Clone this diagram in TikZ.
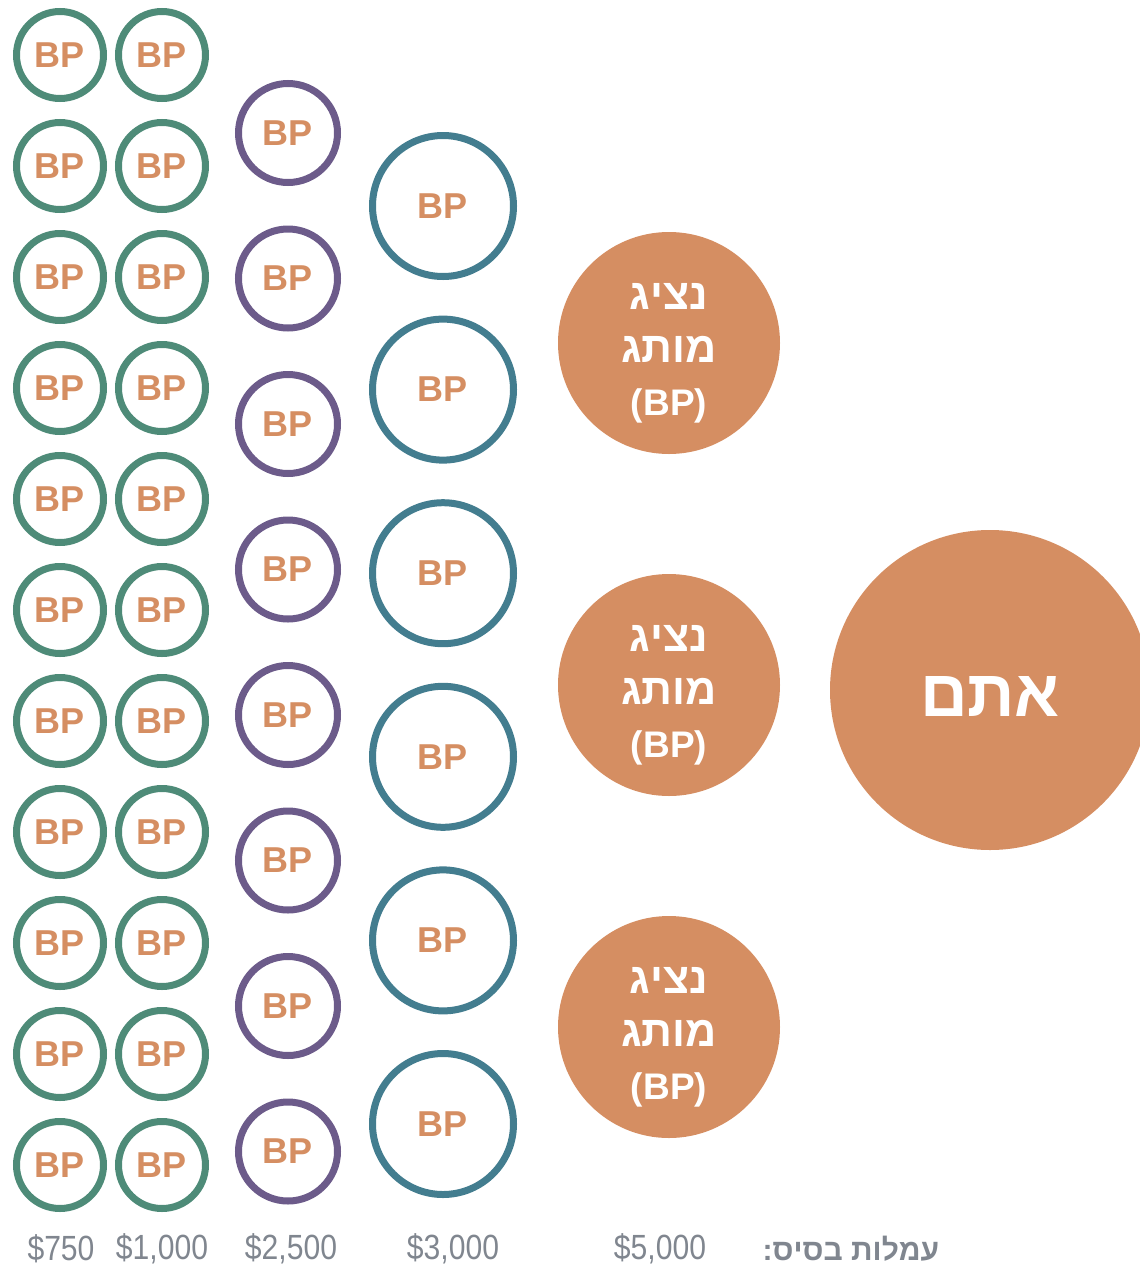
\documentclass[tikz,border=0pt]{standalone}
\usepackage{fontspec}
\setmainfont{Liberation Sans}
\newfontfamily\narrowfont[FakeStretch=0.86]{Liberation Sans}
\TeXXeTstate=1
\usepackage{tikz}

\definecolor{bpgreen}{HTML}{4E8B78}
\definecolor{bppurple}{HTML}{6C5B8A}
\definecolor{bpteal}{HTML}{437D8F}
\definecolor{bporange}{HTML}{D58E62}
\definecolor{feegray}{HTML}{80868F}

\begin{document}
\begin{tikzpicture}[x=0.5pt,y=-0.5pt,
  bp/.style={draw,circle,inner sep=0pt,line width=3.5pt,text=bporange,
    font=\bfseries\fontsize{18}{20}\selectfont},
  rep/.style={circle,fill=bporange,inner sep=0pt,minimum size=111pt},
  reptext/.style={text=white,align=center,inner sep=0pt,
    font=\bfseries\fontsize{21.5}{26.5}\selectfont},
  fee/.style={text=feegray,font=\narrowfont\fontsize{17.5}{20}\selectfont}]
\useasboundingbox (0,0) rectangle (1140,1264);
\foreach \i in {0,...,10} {
  \node[bp,draw=bpgreen,minimum size=43.5pt] (a\i) at (60,55+111*\i) {BP};
  \node[bp,draw=bpgreen,minimum size=43.5pt] (b\i) at (162,55+111*\i) {BP};
}
\foreach \i in {0,...,7}
  \node[bp,draw=bppurple,minimum size=49.5pt] (c\i) at (288,133+145.5*\i) {BP};
\foreach \i in {0,...,5}
  \node[bp,draw=bpteal,minimum size=70.5pt] (d\i) at (443,206+183.6*\i) {BP};
\foreach \i in {0,1,2} {
  \node[rep] (r\i) at (669,343+342*\i) {};
  \node[reptext] (t\i) at ([yshift=-5pt]r\i.center)
    {\beginR נציג\endR\\\beginR מותג\endR\\{\fontsize{18.5}{26.5}\selectfont (BP)}};
}
\node[circle,fill=bporange,inner sep=0pt,minimum size=160pt] (you) at (990,690) {};
\node[text=white,inner sep=0pt,font=\bfseries\fontsize{33}{36}\selectfont]
  (youtext) at ([yshift=-3pt]you.center) {\beginR אתם\endR};
\node[fee] (f1) at (61,1249) {\$750};
\node[fee] (f2) at (162,1249) {\$1,000};
\node[fee] (f3) at (291,1249) {\$2,500};
\node[fee] (f4) at (453,1249) {\$3,000};
\node[fee] (f5) at (660,1249) {\$5,000};
\node[text=feegray,font=\bfseries\fontsize{15}{18}\selectfont] (feelbl) at (851,1249) {\beginR עמלות בסיס:\endR};
\end{tikzpicture}
\end{document}
